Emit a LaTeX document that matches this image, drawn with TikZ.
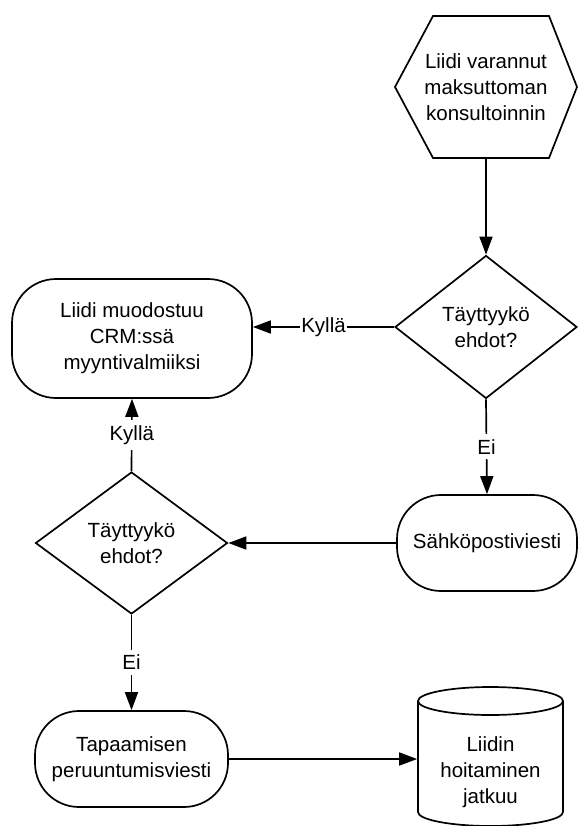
\documentclass[tikz,border=0pt]{standalone}
\usepackage{fontspec}
\setmainfont{Liberation Sans}
\usetikzlibrary{arrows.meta,shapes.geometric,calc}
\begin{document}
\begin{tikzpicture}[x=1pt,y=-1pt,line width=1.7pt,
  txt/.style={font=\fontsize{20.5}{26}\selectfont,align=center,inner sep=0pt},
  term/.style={txt,draw,rounded corners=44pt},
  decide/.style={txt,draw,diamond},
  arr/.style={-{Triangle[length=18pt,width=13pt]}},
  lab/.style={font=\fontsize{20.5}{24}\selectfont,fill=white,inner xsep=1pt,inner ysep=5pt}]
\useasboundingbox (0,0) rectangle (579,826);

% start: hexagon drawn around a plain text node
\node[txt,minimum width=182pt,minimum height=142pt] (start) at (486,87)
  {Liidi varannut\\maksuttoman\\konsultoinnin};
\draw ($(start)+(-91,0)$) -- ($(start)+(-53,-71)$) -- ($(start)+(63,-71)$)
  -- ($(start)+(91,0)$) -- ($(start)+(63,71)$) -- ($(start)+(-53,71)$) -- cycle;

% decisions
\node[decide,minimum width=182pt,minimum height=143pt] (d1) at (486,327)
  {Täyttyykö\\ehdot?};
\node[decide,minimum width=192pt,minimum height=142pt] (d2) at (131.5,543)
  {Täyttyykö\\ehdot?};

% process boxes
\node[term,minimum width=240pt,minimum height=119pt] (ready) at (132,338.5)
  {Liidi muodostuu\\CRM:ssä\\myyntivalmiiksi};
\node[term,minimum width=180pt,minimum height=96pt] (mail) at (487,543)
  {Sähköpostiviesti};
\node[term,minimum width=193pt,minimum height=96pt] (cancel) at (131.5,759)
  {Tapaamisen\\peruuntumisviesti};

% storage: cylinder drawn around a plain text node
\node[txt,minimum width=145pt,minimum height=110pt] (store) at (490.5,772)
  {Liidin\\hoitaminen\\jatkuu};
\draw (490.5,701) ellipse [x radius=72.5, y radius=14];
\draw (418,701) -- (418,812) arc[start angle=180,end angle=0,x radius=72.5,y radius=14]
  -- (563,701);

% connectors
\draw[arr] (start.south) -- (d1.north);
\draw[arr] (d1.west) -- node[lab]{Kyllä} (d1.west -| ready.east);
\draw[arr] (d1.south) -- node[lab]{Ei} (mail.north);
\draw[arr] (mail.west) -- (mail.west -| d2.east);
\draw[arr] (d2.north) -- node[lab]{Kyllä} (ready.south);
\draw[arr] (d2.south) -- node[lab]{Ei} (cancel.north);
\draw[arr] (cancel.east) -- (cancel.east -| store.west);
\end{tikzpicture}
\end{document}
